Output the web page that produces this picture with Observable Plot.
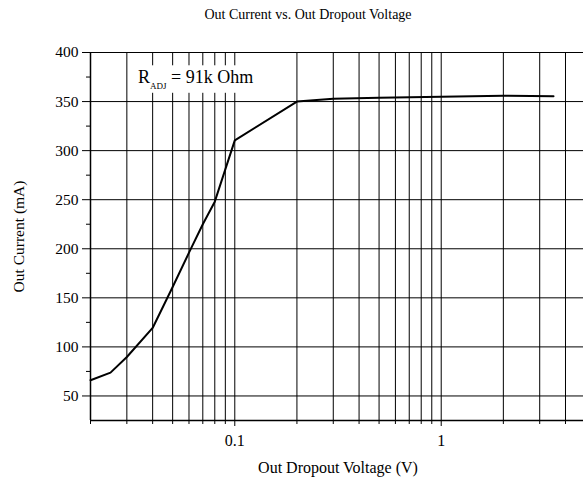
<!DOCTYPE html>
<html>
<head>
<meta charset="utf-8">
<script src="https://cdn.jsdelivr.net/npm/d3@7"></script>
<script src="https://cdn.jsdelivr.net/npm/@observablehq/plot@0.6"></script>
<style>
  body { margin: 0; background: #fff; }
  #title {
    width: 583px; height: 30px; box-sizing: border-box; padding-left: 33px;
    text-align: center; font-family: "Liberation Serif", "Times New Roman", serif;
    font-size: 14px; line-height: 30px; color: #000;
  }
  #chart svg { display: block; }
</style>
</head>
<body>
<div id="title">Out Current vs. Out Dropout Voltage</div>
<div id="chart"></div>
<script>
// Data
const voltage = [0.02, 0.025, 0.03, 0.04, 0.05, 0.06, 0.07, 0.08, 0.1, 0.2, 0.3, 0.5, 1, 2, 3.5];
const current = [66, 73.8, 89.7, 119.3, 161, 196, 225, 248, 310.4, 350, 352.8, 353.8, 355, 356, 355.5];

// Axis ticks
const xTicksMajor = [0.1, 1];
const xTicksMinor = [0.02, 0.03, 0.04, 0.05, 0.06, 0.07, 0.08, 0.09, 0.2, 0.3, 0.4, 0.5, 0.6, 0.7, 0.8, 0.9, 2, 3, 4];
const yTicksMajor = [50, 100, 150, 200, 250, 300, 350, 400];
const yTicksMinor = [75, 125, 175, 225, 275, 325, 375];
const xDomain = [0.02, 5];
const yDomain = [25, 400];

// Annotation
const annotation = [{x: 0.034, y: 374.5, text: "R"}];
const annoSub = "ADJ";
const annoRest = " = 91k Ohm";

const data = voltage.map((v, i) => ({v, i: current[i]}));
const xGrid = [...xTicksMinor, ...xTicksMajor];

const font = "'Liberation Serif', 'Times New Roman', serif";

const chart = Plot.plot({
  width: 583,
  height: 452,
  marginTop: 22,
  marginBottom: 62,
  marginLeft: 90,
  marginRight: -2,
  style: {fontFamily: font, fontSize: "16px", background: "white", color: "black", overflow: "hidden"},
  x: {type: "log", domain: xDomain},
  y: {domain: yDomain},
  marks: [
    Plot.ruleX(xGrid, {stroke: "black", strokeWidth: 1}),
    Plot.ruleY(yTicksMajor, {stroke: "black", strokeWidth: 1}),
    Plot.ruleX([xDomain[0]], {stroke: "black", strokeWidth: 1.5}),
    Plot.ruleY([yDomain[0]], {stroke: "black", strokeWidth: 1.5}),
    Plot.axisX({ticks: xTicksMajor, tickSize: 6, tickPadding: 8, tickFormat: d => String(d),
      label: "Out Dropout Voltage (V)", labelAnchor: "center", labelArrow: "none", labelOffset: 52, fontSize: 16}),
    Plot.axisX({ticks: xTicksMinor, tickSize: 4, tickFormat: () => "", label: null}),
    Plot.axisY({ticks: yTicksMajor, tickSize: 8, tickPadding: 4, tickFormat: d => String(d),
      label: "Out Current (mA)", labelAnchor: "center", labelArrow: "none", labelOffset: 78, fontSize: 15.5}),
    Plot.axisY({ticks: yTicksMinor, tickSize: 4, tickFormat: () => "", label: null}),
    Plot.line(data, {x: "v", y: "i", stroke: "black", strokeWidth: 2}),
    Plot.text(annotation, {x: "x", y: "y", text: "text", textAnchor: "start", fontSize: 18, fill: "black", ariaLabel: "annotation"})
  ]
});

document.getElementById("chart").append(chart);

// Subscript and white box for the annotation
const NS = "http://www.w3.org/2000/svg";
let t = chart.querySelector('text[aria-label="annotation"]');
if (!t) {
  const cand = [...chart.querySelectorAll("text")].filter(e => e.textContent === annotation[0].text);
  t = cand[cand.length - 1];
}
if (t) {
  const base = t.textContent;
  t.textContent = "";
  const t1 = document.createElementNS(NS, "tspan"); t1.textContent = base;
  const t2 = document.createElementNS(NS, "tspan"); t2.textContent = annoSub;
  t2.setAttribute("font-size", "9"); t2.setAttribute("dy", "5.5");
  const t3 = document.createElementNS(NS, "tspan"); t3.textContent = annoRest;
  t3.setAttribute("dy", "-5.5");
  t.append(t1, t2, t3);
  const bb = t.getBBox();
  const r = document.createElementNS(NS, "rect");
  r.setAttribute("x", bb.x - 8);
  r.setAttribute("y", bb.y - 2);
  r.setAttribute("width", bb.width + 14);
  r.setAttribute("height", bb.height + 4);
  r.setAttribute("fill", "white");
  const tr = t.getAttribute("transform");
  if (tr) r.setAttribute("transform", tr);
  t.parentNode.insertBefore(r, t);
}
</script>
</body>
</html>
